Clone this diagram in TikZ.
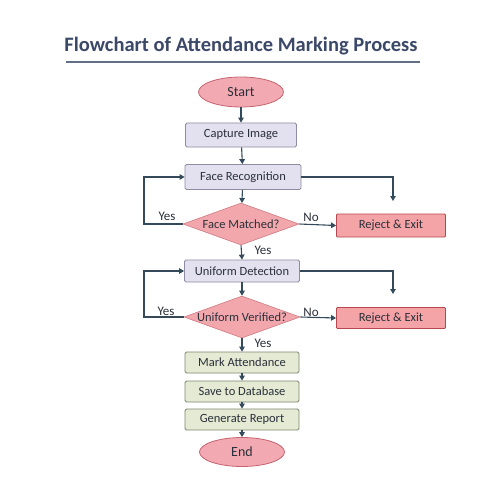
\documentclass[tikz,border=0pt]{standalone}
\usepackage{fontspec}
\setmainfont{Carlito}
\usetikzlibrary{shapes.geometric,arrows.meta}
\definecolor{arrowc}{HTML}{34495A}
\definecolor{titlec}{HTML}{3B4868}
\definecolor{procfill}{HTML}{E3E1F0}
\definecolor{procdraw}{HTML}{8E8CA0}
\definecolor{termfill}{HTML}{F3A9B2}
\definecolor{termdraw}{HTML}{C46470}
\definecolor{rejfill}{HTML}{F4A3A6}
\definecolor{rejdraw}{HTML}{B4484E}
\definecolor{decfill}{HTML}{F2A7AD}
\definecolor{decdraw}{HTML}{D07A82}
\definecolor{gfill}{HTML}{E4EAD3}
\definecolor{gdraw}{HTML}{7E8672}
\definecolor{txtc}{HTML}{2A303A}
\begin{document}
\begin{tikzpicture}[x=1pt,y=-1pt,
  every node/.style={text=txtc,font=\fontsize{12.5}{13}\selectfont},
  proc/.style={draw=procdraw,fill=procfill,line width=0.8pt,rounded corners=1.5pt,minimum width=115pt,minimum height=24pt,inner sep=0pt},
  gbox/.style={draw=gdraw,fill=gfill,line width=0.8pt,rounded corners=1.5pt,minimum width=114pt,minimum height=21pt,inner sep=0pt},
  term/.style={ellipse,draw=termdraw,fill=termfill,line width=0.8pt,minimum width=85pt,minimum height=30pt,inner sep=0pt,font=\fontsize{14}{15}\selectfont},
  rej/.style={draw=rejdraw,fill=rejfill,line width=0.8pt,rounded corners=1pt,minimum width=109pt,minimum height=23pt,inner sep=0pt},
  dec/.style={diamond,aspect=2.75,draw=decdraw,fill=decfill,line width=0.6pt,minimum width=116pt,minimum height=42pt,inner sep=0pt},
  arr/.style={draw=arrowc,line width=1.1pt,-{Triangle[width=5.5pt,length=5pt]}},
  lbl/.style={font=\fontsize{13}{14}\selectfont}
]
\useasboundingbox[fill=white] (0,0) rectangle (503,484);
\node[font=\bfseries\fontsize{20.5}{22}\selectfont,text=titlec] (title) at (241,46) {Flowchart of Attendance Marking Process};
\draw[draw=titlec!80,line width=1.6pt] (66,62) -- (420,62);

\node[term] (start) at (241,92) {Start};
\node[proc,minimum width=111pt] (cap) at (241,135) {Capture Image};
\node[proc,minimum width=116pt,minimum height=25pt] (face) at (243,177) {Face Recognition};
\node[dec] (d1) at (241,224) {Face Matched?};
\node[rej] (rej1) at (391,225.5) {Reject \& Exit};
\node[proc,minimum height=22pt] (ud) at (242,271) {Uniform Detection};
\node[dec] (d2) at (242,317) {Uniform Verified?};
\node[rej,minimum height=21pt] (rej2) at (391,318) {Reject \& Exit};
\node[gbox] (mark) at (242,362.5) {Mark Attendance};
\node[gbox] (save) at (242,391.5) {Save to Database};
\node[gbox] (gen) at (242,419.5) {Generate Report};
\node[term,minimum height=29pt] (end) at (242,452) {End};

\coordinate (f1) at (393,201);
\coordinate (f2) at (393,294);
\coordinate (l1) at (144,224);
\coordinate (l2) at (144,317);

\draw[arr] (start) -- (cap);
\draw[arr] (cap) -- (face);
\draw[arr] (face) -- (d1);
\draw[arr] (face.east) -| (f1);
\draw[arr] (d1.west) -- (l1) |- (face.west);
\node[lbl] (y1) at (167,216) {Yes};
\draw[arr] (d1.east) -- (rej1.west);
\node[lbl] (n1) at (311,217) {No};
\draw[arr] (d1.south) -- (ud.north);
\node[lbl] (y2) at (263,250) {Yes};
\draw[arr] (ud) -- (d2);
\draw[arr] (ud.east) -| (f2);
\draw[arr] (d2.west) -- (l2) |- (ud.west);
\node[lbl] (y3) at (166,311) {Yes};
\draw[arr] (d2.east) -- (rej2.west);
\node[lbl] (n2) at (311,312) {No};
\draw[arr] (d2.south) -- (mark.north);
\node[lbl] (y4) at (263,343) {Yes};
\draw[arr] (mark) -- (save);
\draw[arr] (save) -- (gen);
\draw[arr] (gen) -- (end);
\end{tikzpicture}
\end{document}
